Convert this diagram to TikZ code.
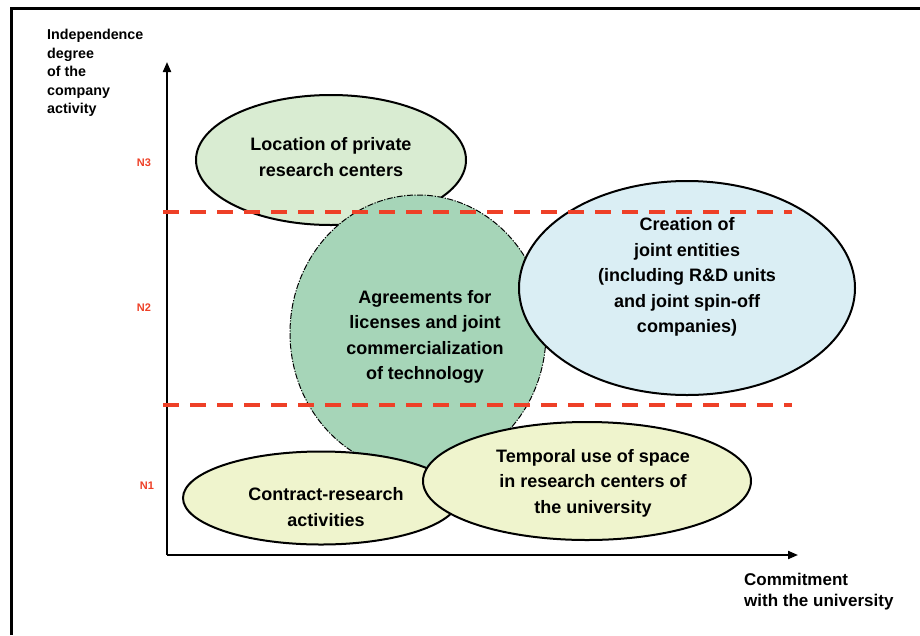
\documentclass[tikz,border=0pt]{standalone}
\usepackage{fontspec}
\setmainfont{Liberation Sans}
\usetikzlibrary{shapes.geometric,arrows.meta}
\definecolor{redline}{HTML}{EE4027}
\definecolor{locfill}{HTML}{D9ECD2}
\definecolor{agrfill}{HTML}{A6D5B8}
\definecolor{crefill}{HTML}{DAEEF4}
\definecolor{yelfill}{HTML}{EFF4CD}
\tikzset{
  blob/.style={ellipse, draw=black, line width=2pt, inner sep=0pt},
  blobtext/.style={font=\bfseries\fontsize{18}{25.5}\selectfont, align=center, inner sep=0pt},
  levellabel/.style={font=\bfseries\fontsize{11}{13}\selectfont, text=redline, inner sep=0pt},
  axis/.style={line width=2pt, -{Triangle[length=10pt,width=8pt]}},
  levelline/.style={redline, line width=4pt, dash pattern=on 16pt off 11pt},
  frameline/.style={line width=3pt}
}
\begin{document}
\begin{tikzpicture}[x=1pt,y=-1pt]
\useasboundingbox (0,0) rectangle (920,635);
% frame
\coordinate (fbl) at (11,635);
\coordinate (ftl) at (11,8);
\coordinate (ftr) at (920,8);
\draw[frameline] (fbl) -- (ftl) -- (ftr);
% axes
\coordinate (origin) at (167,555);
\coordinate (ytop) at (167,62);
\coordinate (xend) at (798,555);
\draw[axis] (origin) -- (ytop);
\draw[axis] (origin) -- (xend);
% axis labels
\node[anchor=west, font=\bfseries\fontsize{14.3}{18.5}\selectfont, align=left, inner sep=0pt] (ylab) at (47,73)
  {Independence\\degree\\of the\\company\\activity};
\node[anchor=west, font=\bfseries\fontsize{17}{21}\selectfont, align=left, inner sep=0pt] (xlab) at (744,592)
  {Commitment\\with the university};
% level labels
\node[levellabel] (n3) at (144,163) {N3};
\node[levellabel] (n2) at (144,308) {N2};
\node[levellabel] (n1) at (147,486) {N1};
% ellipses
\node[blob, fill=locfill, minimum width=270pt, minimum height=130pt] (loc) at (331,160) {};
\node[ellipse, draw=black, line width=1pt, dash pattern=on 6pt off 1.5pt on 1.2pt off 1.5pt, fill=agrfill, inner sep=0pt, minimum width=256pt, minimum height=276pt] (agr) at (418,333) {};
\node[blob, fill=yelfill, minimum width=276pt, minimum height=93pt] (con) at (321,498) {};
\node[blob, fill=yelfill, minimum width=328pt, minimum height=118pt] (tem) at (587,481) {};
\node[blob, fill=crefill, minimum width=336pt, minimum height=214pt] (cre) at (687,288) {};
% dashed level lines
\coordinate (l1a) at (163,212);
\coordinate (l1b) at (792,212);
\coordinate (l2a) at (163,405);
\coordinate (l2b) at (792,405);
\draw[levelline] (l1a) -- (l1b);
\draw[levelline] (l2a) -- (l2b);
% texts
\node[blobtext] (loct) at (331,157) {Location of private\\research centers};
\node[blobtext] (agrt) at (425,337) {Agreements for\\licenses and joint\\commercialization\\of technology};
\node[blobtext] (cret) at (687,277) {Creation of\\joint entities\\(including R\&D units\\and joint spin-off\\companies)};
\node[blobtext] (cont) at (326,507) {Contract-research\\activities};
\node[blobtext] (temt) at (593,483) {Temporal use of space\\in research centers of\\the university};
\end{tikzpicture}
\end{document}
